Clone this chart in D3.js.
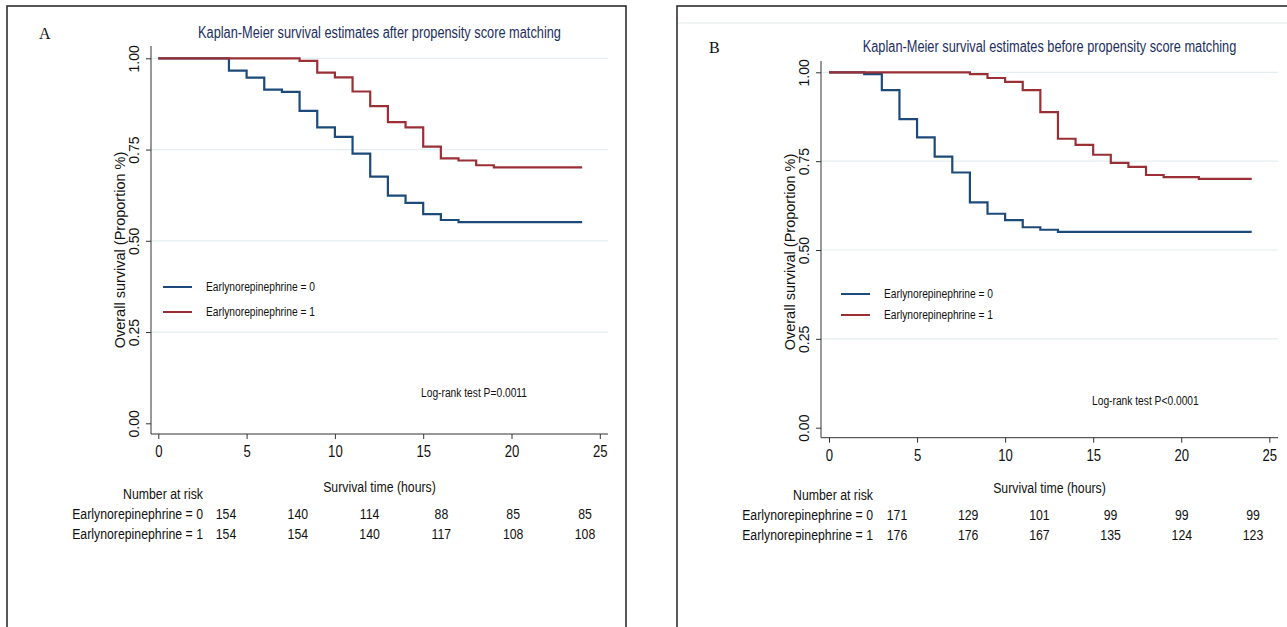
<!DOCTYPE html>
<html lang="en">
<head>
    <meta charset="UTF-8">
    <title>Kaplan-Meier survival estimates</title>
    <script src="https://d3js.org/d3.v7.min.js"></script>
    <style>
        body { margin: 0; background: #fff; }
        text { font-family: "Liberation Sans", Arial, sans-serif; fill: #111; }
        .serif { font-family: "Liberation Serif", "Times New Roman", serif; }
    </style>
</head>
<body>
    <svg id="km"></svg>
    <script>
        // values
        const xTicks = [0, 5, 10, 15, 20, 25];
        const yTicks = [0, 0.25, 0.5, 0.75, 1];
        const yTickLabels = ["0.00", "0.25", "0.50", "0.75", "1.00"];
        const groupLabels = ["Earlynorepinephrine = 0", "Earlynorepinephrine = 1"];

        // panel A: after matching
        const timesA0 = [0, 4, 5, 6, 7, 8, 9, 10, 11, 12, 13, 14, 15, 16, 17, 24];
        const survA0 = [1, 0.966, 0.947, 0.914, 0.908, 0.856, 0.811, 0.785, 0.739, 0.676, 0.624, 0.604, 0.573, 0.557, 0.551, 0.551];
        const timesA1 = [0, 8, 9, 10, 11, 12, 13, 14, 15, 16, 17, 18, 19, 24];
        const survA1 = [1, 0.993, 0.961, 0.948, 0.909, 0.869, 0.825, 0.811, 0.758, 0.726, 0.720, 0.707, 0.701, 0.701];
        const riskA0 = [154, 140, 114, 88, 85, 85];
        const riskA1 = [154, 154, 140, 117, 108, 108];

        // panel B: before matching
        const timesB0 = [0, 2, 3, 4, 5, 6, 7, 8, 9, 10, 11, 12, 13, 24];
        const survB0 = [1, 0.995, 0.950, 0.868, 0.817, 0.763, 0.718, 0.634, 0.602, 0.584, 0.564, 0.557, 0.551, 0.551];
        const timesB1 = [0, 8, 9, 10, 11, 12, 13, 14, 15, 16, 17, 18, 19, 21, 24];
        const survB1 = [1, 0.995, 0.984, 0.973, 0.950, 0.888, 0.813, 0.796, 0.768, 0.745, 0.734, 0.711, 0.705, 0.700, 0.700];
        const riskB0 = [171, 129, 101, 99, 99, 99];
        const riskB1 = [176, 176, 167, 135, 124, 123];

        const colors = ["#1c4a7a", "#9a3036"];
        const width = 1287, height = 627;
        const svg = d3.select("#km").attr("width", width).attr("height", height);

        // no narrow font installed: squeeze Liberation Sans sideways to Arial Narrow proportions
        function squeeze(sel, k = 0.82) {
            sel.each(function () {
                const t = d3.select(this);
                const tx = +t.attr("x") || 0, ty = +t.attr("y") || 0;
                t.attr("x", 0).attr("y", 0).attr("transform", `translate(${tx},${ty}) scale(${k},1)`);
            });
            return sel;
        }

        // frames round the two pictures
        svg.append("path").attr("d", "M7,627V6H626V627").attr("fill", "none").attr("stroke", "#222").attr("stroke-width", 1.5);
        svg.append("path").attr("d", "M677,627V6H1287").attr("fill", "none").attr("stroke", "#222").attr("stroke-width", 1.5);
        svg.append("line").attr("x1", 678).attr("x2", 1287).attr("y1", 23).attr("y2", 23).attr("stroke", "#e3e9eb");

        function drawPanel(p) {
            const g = svg.append("g");
            const x = d3.scaleLinear().domain([0, 25]).range([p.x0, p.x25]);
            const y = d3.scaleLinear().domain([0, 1]).range([p.y0, p.y1]);

            // grid
            g.selectAll(".grid").data(yTicks.slice(1)).join("line")
                .attr("x1", p.axisX).attr("x2", p.right)
                .attr("y1", d => y(d)).attr("y2", d => y(d))
                .attr("stroke", "#e4eef0").attr("stroke-width", 1.2);

            // axes
            const ya = g.append("g").attr("transform", `translate(${p.axisX},0)`)
                .call(d3.axisLeft(y).tickValues(yTicks).tickSize(5).tickFormat((d, i) => yTickLabels[i]));
            ya.select(".domain").remove();
            ya.selectAll("line").attr("stroke", "#333");
            ya.selectAll("text").attr("font-size", 14).attr("font-family", null)
                .attr("transform", "rotate(-90)").attr("x", 0).attr("y", -12).attr("dy", 0)
                .attr("text-anchor", "middle").style("fill", "#111");

            const xa = g.append("g").attr("transform", `translate(0,${p.axisY})`)
                .call(d3.axisBottom(x).tickValues(xTicks).tickSize(5));
            xa.select(".domain").remove();
            xa.selectAll("line").attr("stroke", "#333");
            squeeze(xa.selectAll("text").attr("font-size", 16).attr("font-family", null)
                .attr("y", 23).attr("dy", 0).style("fill", "#111"));

            g.append("line").attr("x1", p.axisX).attr("x2", p.axisX).attr("y1", p.top).attr("y2", p.axisY).attr("stroke", "#333");
            g.append("line").attr("x1", p.axisX).attr("x2", p.right).attr("y1", p.axisY).attr("y2", p.axisY).attr("stroke", "#333");

            // survival curves
            const line = d3.line().x(d => x(d[0])).y(d => y(d[1])).curve(d3.curveStepAfter);
            p.series.forEach((s, i) => {
                g.append("path").datum(d3.zip(s.t, s.s)).attr("d", line)
                    .attr("fill", "none").attr("stroke", colors[i]).attr("stroke-width", 2.2);
            });

            // titles
            const mid = (p.axisX + p.right) / 2;
            squeeze(g.append("text").attr("x", mid).attr("y", p.titleY).attr("text-anchor", "middle")
                .attr("font-size", 15.6).style("fill", "#1d2f5e").text(p.title));
            g.append("text").attr("class", "serif").attr("x", p.letterX).attr("y", p.titleY + 1)
                .attr("font-size", 16).text(p.letter);
            g.append("text").attr("font-size", 14.5)
                .attr("transform", `translate(${p.axisX - 26},${p.yTitleMid}) rotate(-90)`)
                .attr("text-anchor", "middle").text("Overall survival (Proportion %)");

            // legend
            groupLabels.forEach((lab, i) => {
                const ly = p.legY[i];
                g.append("line").attr("x1", p.legX).attr("x2", p.legX + 29).attr("y1", ly).attr("y2", ly)
                    .attr("stroke", colors[i]).attr("stroke-width", 2);
                squeeze(g.append("text").attr("x", p.legX + 43).attr("y", ly + 4).attr("font-size", 12.5).text(lab));
            });
            squeeze(g.append("text").attr("x", p.pX).attr("y", p.pY + 4).attr("font-size", 12.5).text(p.pText));

            // number at risk table
            const col = d3.scalePoint().domain(d3.range(xTicks.length)).range(p.riskCols);
            squeeze(g.append("text").attr("x", mid).attr("y", p.riskY - 27).attr("text-anchor", "middle")
                .attr("font-size", 15).text("Survival time (hours)"));
            squeeze(g.append("text").attr("x", p.riskLabelX - 40).attr("y", p.riskY - 20).attr("text-anchor", "middle")
                .attr("font-size", 15).text("Number at risk"));
            p.risk.forEach((row, r) => {
                const ry = p.riskY + r * 19.5;
                squeeze(g.append("text").attr("x", p.riskLabelX).attr("y", ry).attr("text-anchor", "end")
                    .attr("font-size", 15).text(groupLabels[r]));
                squeeze(g.selectAll(null).data(row).join("text")
                    .attr("x", (d, i) => col(i)).attr("y", ry).attr("text-anchor", "middle")
                    .attr("font-size", 15).text(d => d));
            });
        }

        drawPanel({
            letter: "A", letterX: 39, title: "Kaplan-Meier survival estimates after propensity score matching", titleY: 38,
            x0: 158.3, x25: 599.8, y0: 423.3, y1: 58.3, axisX: 151, axisY: 434, top: 46, right: 608, yTitleMid: 250,
            series: [{ t: timesA0, s: survA0 }, { t: timesA1, s: survA1 }],
            legX: 163, legY: [287, 312], pX: 421, pY: 393, pText: "Log-rank test P=0.0011",
            risk: [riskA0, riskA1], riskCols: [226, 585], riskLabelX: 203, riskY: 519
        });

        drawPanel({
            letter: "B", letterX: 709, title: "Kaplan-Meier survival estimates before propensity score matching", titleY: 52,
            x0: 829, x25: 1269.3, y0: 427.7, y1: 72.3, axisX: 821, axisY: 437.7, top: 61, right: 1278, yTitleMid: 252,
            series: [{ t: timesB0, s: survB0 }, { t: timesB1, s: survB1 }],
            legX: 841, legY: [294, 315], pX: 1092, pY: 401, pText: "Log-rank test P<0.0001",
            risk: [riskB0, riskB1], riskCols: [897, 1253], riskLabelX: 873, riskY: 520
        });
    </script>
</body>
</html>
